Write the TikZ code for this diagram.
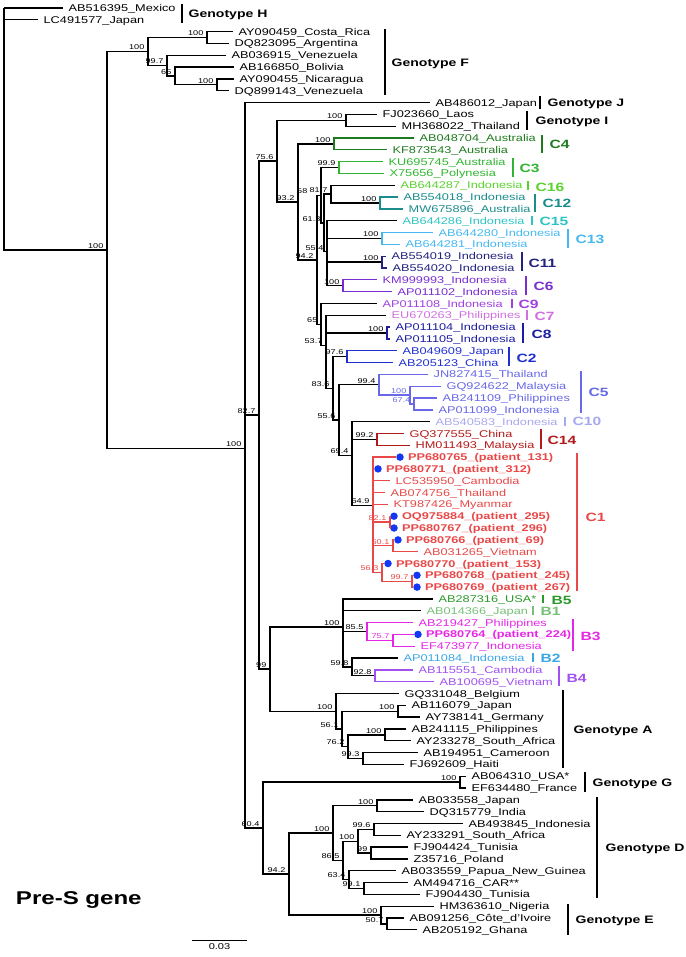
\documentclass[tikz,border=0pt]{standalone}
\usepackage{fontspec}
\setmainfont{Liberation Sans}[FakeStretch=1.3]
\usepackage{xcolor}
\usepackage{tikz}

\definecolor{cfour}{HTML}{1E7A1E}
\definecolor{cthree}{HTML}{30B530}
\definecolor{csixteen}{HTML}{5AD22E}
\definecolor{ctwelve}{HTML}{1A8C8C}
\definecolor{cfifteen}{HTML}{2EC4C4}
\definecolor{cthirteen}{HTML}{45B8F0}
\definecolor{celeven}{HTML}{22227F}
\definecolor{csix}{HTML}{7A2ED1}
\definecolor{cnine}{HTML}{A040E0}
\definecolor{cseven}{HTML}{D070E0}
\definecolor{ceight}{HTML}{1C1CA0}
\definecolor{ctwo}{HTML}{2030D0}
\definecolor{cfive}{HTML}{6868E8}
\definecolor{cten}{HTML}{A8A8EE}
\definecolor{cfourteen}{HTML}{B41A1A}
\definecolor{cone}{HTML}{E84848}
\definecolor{bfive}{HTML}{2A992A}
\definecolor{bone}{HTML}{78C078}
\definecolor{bthree}{HTML}{E626E6}
\definecolor{btwo}{HTML}{3AA6E6}
\definecolor{bfour}{HTML}{A050F0}
\definecolor{dotblue}{HTML}{1238F5}

\begin{document}
\begin{tikzpicture}[x=1pt,y=-1pt,line width=1.3pt,
	leaf/.style={anchor=west,inner xsep=5pt,inner ysep=0pt,text height=8pt,text depth=1pt,font=\fontsize{9.8}{10}\selectfont},
	pleaf/.style={leaf,cone,inner xsep=3pt,font=\fontsize{9.8}{10}\selectfont\bfseries},
	dot/.style={circle,fill=dotblue,inner sep=0pt,minimum size=7.5pt},
	bs/.style={anchor=south east,inner sep=1pt,xshift=-2pt,font=\fontsize{7}{7}\selectfont},
	bar/.style={line width=2.2pt},
	clade/.style={anchor=west,inner sep=0pt,text height=8.6pt,text depth=0pt,font=\fontsize{12}{12}\selectfont\bfseries},
	geno/.style={anchor=west,inner sep=0pt,text height=7.7pt,text depth=0pt,font=\fontsize{10.8}{11}\selectfont\bfseries}]
	\useasboundingbox (0,0) rectangle (685,957);

	\coordinate (root) at (4,8);
	\coordinate (nIn) at (107,250.1);
	\coordinate (nF) at (148,51.6);
	\coordinate (nCR) at (207,37.55);
	\coordinate (n997) at (167,65.6);
	\coordinate (n65F) at (175,75.95);
	\coordinate (nNV) at (217,84.8);
	\coordinate (n245) at (245,448.6);
	\coordinate (n827) at (259,415.1);
	\coordinate (n756) at (277,161.1);
	\coordinate (nI) at (346,120.3);
	\coordinate (n932) at (298,201.9);
	\coordinate (nC4) at (334,143.9);
	\coordinate (n942) at (317,259.9);
	\coordinate (n58) at (321,195.3);
	\coordinate (nC3) at (339,167.6);
	\coordinate (n613) at (324,222.95);
	\coordinate (n817) at (331,194.15);
	\coordinate (nC12) at (380,203);
	\coordinate (n554) at (327,251.8);
	\coordinate (nC13) at (382,238.5);
	\coordinate (nC11) at (382,262.1);
	\coordinate (nC6) at (343,285.75);
	\coordinate (n65C) at (321,324.55);
	\coordinate (n537) at (326,345.6);
	\coordinate (nC8) at (387,333);
	\coordinate (n836) at (333,388.4);
	\coordinate (nC2) at (347,356.7);
	\coordinate (n556) at (339,420.1);
	\coordinate (nC5) at (379,384.75);
	\coordinate (nC5a) at (410,395.1);
	\coordinate (nC5b) at (414,403.95);
	\coordinate (n694) at (352,455.5);
	\coordinate (nC14) at (377,439.4);
	\coordinate (nC1) at (373,505.5);
	\coordinate (n821) at (390,522.1);
	\coordinate (n601) at (393,545.8);
	\coordinate (n563) at (382,572.35);
	\coordinate (n997C) at (412,581.2);
	\coordinate (n99) at (270,669.1);
	\coordinate (nB) at (343,627);
	\coordinate (nB3) at (367,631.45);
	\coordinate (n757) at (393,640.3);
	\coordinate (n598) at (352,666.9);
	\coordinate (nB4) at (375,675.8);
	\coordinate (nA) at (336,711.2);
	\coordinate (n561) at (342,728.95);
	\coordinate (nA1) at (398,711.2);
	\coordinate (n762) at (348,746.7);
	\coordinate (nA2) at (385,734.9);
	\coordinate (n993) at (363,758.5);
	\coordinate (n604) at (263,828.1);
	\coordinate (nG) at (460,782.1);
	\coordinate (n942D) at (289,874.1);
	\coordinate (nD) at (333,833.1);
	\coordinate (nD1) at (377,805.8);
	\coordinate (n865) at (343,860.4);
	\coordinate (n100D) at (358,841.2);
	\coordinate (n996) at (374,829.4);
	\coordinate (n99D) at (371,853);
	\coordinate (n634) at (349,879.65);
	\coordinate (n991) at (364,888.5);
	\coordinate (nE) at (381,915.05);
	\coordinate (n507) at (387,923.9);

	\node[leaf] (AB516395) at (63,8) {AB516395\_Mexico};
	\node[leaf] (LC491577) at (38,19.8) {LC491577\_Japan};
	\node[leaf] (AY090459) at (233,31.6) {AY090459\_Costa\_Rica};
	\node[leaf] (DQ823095) at (229,43.5) {DQ823095\_Argentina};
	\node[leaf] (AB036915) at (226,55.3) {AB036915\_Venezuela};
	\node[leaf] (AB166850) at (234,67.1) {AB166850\_Bolivia};
	\node[leaf] (AY090455) at (234,78.9) {AY090455\_Nicaragua};
	\node[leaf] (DQ899143) at (229,90.7) {DQ899143\_Venezuela};
	\node[leaf] (AB486012) at (430,102.6) {AB486012\_Japan};
	\node[leaf] (FJ023660) at (377,114.4) {FJ023660\_Laos};
	\node[leaf] (MH368022) at (396,126.2) {MH368022\_Thailand};
	\node[leaf,cfour] (AB048704) at (414,138) {AB048704\_Australia};
	\node[leaf,cfour] (KF873543) at (387,149.8) {KF873543\_Australia};
	\node[leaf,cthree] (KU695745) at (383,161.7) {KU695745\_Australia};
	\node[leaf,cthree] (X75656) at (384,173.5) {X75656\_Polynesia};
	\node[leaf,csixteen] (AB644287) at (395,185.3) {AB644287\_Indonesia};
	\node[leaf,ctwelve] (AB554018) at (398,197.1) {AB554018\_Indonesia};
	\node[leaf,ctwelve] (MW675896) at (403,208.9) {MW675896\_Australia};
	\node[leaf,cfifteen] (AB644286) at (397,220.8) {AB644286\_Indonesia};
	\node[leaf,cthirteen] (AB644280) at (433,232.6) {AB644280\_Indonesia};
	\node[leaf,cthirteen] (AB644281) at (400,244.4) {AB644281\_Indonesia};
	\node[leaf,celeven] (AB554019) at (386,256.2) {AB554019\_Indonesia};
	\node[leaf,celeven] (AB554020) at (387,268) {AB554020\_Indonesia};
	\node[leaf,csix] (KM999993) at (377,279.8) {KM999993\_Indonesia};
	\node[leaf,csix] (AP011102) at (392,291.7) {AP011102\_Indonesia};
	\node[leaf,cnine] (AP011108) at (377,303.5) {AP011108\_Indonesia};
	\node[leaf,cseven] (EU670263) at (386,315.3) {EU670263\_Philippines};
	\node[leaf,ceight] (AP011104) at (390,327.1) {AP011104\_Indonesia};
	\node[leaf,ceight] (AP011105) at (390,338.9) {AP011105\_Indonesia};
	\node[leaf,ctwo] (AB049609) at (397,350.8) {AB049609\_Japan};
	\node[leaf,ctwo] (AB205123) at (393,362.6) {AB205123\_China};
	\node[leaf,cfive] (JN827415) at (428,374.4) {JN827415\_Thailand};
	\node[leaf,cfive] (GQ924622) at (441,386.2) {GQ924622\_Malaysia};
	\node[leaf,cfive] (AB241109) at (437,398) {AB241109\_Philippines};
	\node[leaf,cfive] (AP011099) at (433,409.9) {AP011099\_Indonesia};
	\node[leaf,cten] (AB540583) at (430,421.7) {AB540583\_Indonesia};
	\node[leaf,cfourteen] (GQ377555) at (404,433.5) {GQ377555\_China};
	\node[leaf,cfourteen] (HM011493) at (410,445.3) {HM011493\_Malaysia};

	\node[dot] (dPP680765) at (400,457.1) {};
	\node[pleaf] (PP680765) at (dPP680765.east) {PP680765\_(patient\_131)};
	\node[dot] (dPP680771) at (378,468.9) {};
	\node[pleaf] (PP680771) at (dPP680771.east) {PP680771\_(patient\_312)};
	\node[leaf,cone] (LC535950) at (390,480.8) {LC535950\_Cambodia};
	\node[leaf,cone] (AB074756) at (385,492.6) {AB074756\_Thailand};
	\node[leaf,cone] (KT987426) at (388,504.4) {KT987426\_Myanmar};
	\node[dot] (dOQ975884) at (394,516.2) {};
	\node[pleaf] (OQ975884) at (dOQ975884.east) {OQ975884\_(patient\_295)};
	\node[dot] (dPP680767) at (394,528) {};
	\node[pleaf] (PP680767) at (dPP680767.east) {PP680767\_(patient\_296)};
	\node[dot] (dPP680766) at (398,539.9) {};
	\node[pleaf] (PP680766) at (dPP680766.east) {PP680766\_(patient\_69)};
	\node[leaf,cone] (AB031265) at (418,551.7) {AB031265\_Vietnam};
	\node[dot] (dPP680770) at (388,563.5) {};
	\node[pleaf] (PP680770) at (dPP680770.east) {PP680770\_(patient\_153)};
	\node[dot] (dPP680768) at (417,575.3) {};
	\node[pleaf] (PP680768) at (dPP680768.east) {PP680768\_(patient\_245)};
	\node[dot] (dPP680769) at (417,587.1) {};
	\node[pleaf] (PP680769) at (dPP680769.east) {PP680769\_(patient\_267)};

	\node[leaf,bfive] (AB287316) at (433,599) {AB287316\_USA*};
	\node[leaf,bone] (AB014366) at (421,610.8) {AB014366\_Japan};
	\node[leaf,bthree] (AB219427) at (413,622.6) {AB219427\_Philippines};
	\node[dot] (dPP680764) at (418,634.4) {};
	\node[pleaf,bthree] (PP680764) at (dPP680764.east) {PP680764\_(patient\_224)};
	\node[leaf,bthree] (EF473977) at (415,646.2) {EF473977\_Indonesia};
	\node[leaf,btwo] (AP011084) at (398,658) {AP011084\_Indonesia};
	\node[leaf,bfour] (AB115551) at (413,669.9) {AB115551\_Cambodia};
	\node[leaf,bfour] (AB100695) at (434,681.7) {AB100695\_Vietnam};
	\node[leaf] (GQ331048) at (399,693.5) {GQ331048\_Belgium};
	\node[leaf] (AB116079) at (406,705.3) {AB116079\_Japan};
	\node[leaf] (AY738141) at (420,717.1) {AY738141\_Germany};
	\node[leaf] (AB241115) at (406,729) {AB241115\_Philippines};
	\node[leaf] (AY233278) at (411,740.8) {AY233278\_South\_Africa};
	\node[leaf] (AB194951) at (418,752.6) {AB194951\_Cameroon};
	\node[leaf] (FJ692609) at (404,764.4) {FJ692609\_Haiti};
	\node[leaf] (AB064310) at (466,776.2) {AB064310\_USA*};
	\node[leaf] (EF634480) at (466,788) {EF634480\_France};
	\node[leaf] (AB033558) at (413,799.9) {AB033558\_Japan};
	\node[leaf] (DQ315779) at (424,811.7) {DQ315779\_India};
	\node[leaf] (AB493845) at (463,823.5) {AB493845\_Indonesia};
	\node[leaf] (AY233291) at (401,835.3) {AY233291\_South\_Africa};
	\node[leaf] (FJ904424) at (408,847.1) {FJ904424\_Tunisia};
	\node[leaf] (Z35716) at (408,858.9) {Z35716\_Poland};
	\node[leaf] (AB033559) at (396,870.8) {AB033559\_Papua\_New\_Guinea};
	\node[leaf] (AM494716) at (408,882.6) {AM494716\_CAR**};
	\node[leaf] (FJ904430) at (420,894.4) {FJ904430\_Tunisia};
	\node[leaf] (HM363610) at (434,906.2) {HM363610\_Nigeria};
	\node[leaf] (AB091256) at (404,918) {AB091256\_Côte\_d'Ivoire};
	\node[leaf] (AB205192) at (417,929.8) {AB205192\_Ghana};

	\draw (root) |- (AB516395.west);
	\draw (root) |- (LC491577.west);
	\draw (root) |- (nIn);
	\draw (nIn) |- (nF);
	\draw (nIn) |- (n245);
	\draw (nF) |- (nCR);
	\draw (nF) |- (n997);
	\draw (nCR) |- (AY090459.west);
	\draw (nCR) |- (DQ823095.west);
	\draw (n997) |- (AB036915.west);
	\draw (n997) |- (n65F);
	\draw (n65F) |- (AB166850.west);
	\draw (n65F) |- (nNV);
	\draw (nNV) |- (AY090455.west);
	\draw (nNV) |- (DQ899143.west);

	\draw (n245) |- (AB486012.west);
	\draw (n245) |- (n827);
	\draw (n245) |- (n604);
	\draw (n827) |- (n756);
	\draw (n827) |- (n99);
	\draw (n756) |- (nI);
	\draw (n756) |- (n932);
	\draw (nI) |- (FJ023660.west);
	\draw (nI) |- (MH368022.west);
	\draw (n932) |- (nC4);
	\draw (n932) |- (n942);
	\draw[cfour] (nC4) |- (AB048704.west);
	\draw[cfour] (nC4) |- (KF873543.west);
	\draw (n942) |- (n58);
	\draw (n942) |- (n65C);
	\draw (n58) |- (nC3);
	\draw (n58) |- (n613);
	\draw[cthree] (nC3) |- (KU695745.west);
	\draw[cthree] (nC3) |- (X75656.west);
	\draw (n613) |- (n817);
	\draw (n613) |- (n554);
	\draw (n817) |- (AB644287.west);
	\draw (n817) |- (nC12);
	\draw[ctwelve] (nC12) |- (AB554018.west);
	\draw[ctwelve] (nC12) |- (MW675896.west);
	\draw (n554) |- (AB644286.west);
	\draw (n554) |- (nC13);
	\draw (n554) |- (nC11);
	\draw (n554) |- (nC6);
	\draw[cthirteen] (nC13) |- (AB644280.west);
	\draw[cthirteen] (nC13) |- (AB644281.west);
	\draw[celeven] (nC11) |- (AB554019.west);
	\draw[celeven] (nC11) |- (AB554020.west);
	\draw[csix] (nC6) |- (KM999993.west);
	\draw[csix] (nC6) |- (AP011102.west);
	\draw (n65C) |- (AP011108.west);
	\draw (n65C) |- (n537);
	\draw (n537) |- (EU670263.west);
	\draw (n537) |- (nC8);
	\draw (n537) |- (n836);
	\draw[ceight] (nC8) |- (AP011104.west);
	\draw[ceight] (nC8) |- (AP011105.west);
	\draw (n836) |- (nC2);
	\draw (n836) |- (n556);
	\draw[ctwo] (nC2) |- (AB049609.west);
	\draw[ctwo] (nC2) |- (AB205123.west);
	\draw (n556) |- (nC5);
	\draw (n556) |- (n694);
	\draw[cfive] (nC5) |- (JN827415.west);
	\draw[cfive] (nC5) |- (nC5a);
	\draw[cfive] (nC5a) |- (GQ924622.west);
	\draw[cfive] (nC5a) |- (nC5b);
	\draw[cfive] (nC5b) |- (AB241109.west);
	\draw[cfive] (nC5b) |- (AP011099.west);
	\draw (n694) |- (AB540583.west);
	\draw (n694) |- (nC14);
	\draw (n694) |- (nC1);
	\draw[cfourteen] (nC14) |- (GQ377555.west);
	\draw[cfourteen] (nC14) |- (HM011493.west);
	\draw[cone] (nC1) |- (dPP680765);
	\draw[cone] (nC1) |- (dPP680771);
	\draw[cone] (nC1) |- (LC535950.west);
	\draw[cone] (nC1) |- (AB074756.west);
	\draw[cone] (nC1) |- (KT987426.west);
	\draw[cone] (nC1) |- (n821);
	\draw[cone] (nC1) |- (n601);
	\draw[cone] (nC1) |- (n563);
	\draw[cone] (n821) |- (dOQ975884);
	\draw[cone] (n821) |- (dPP680767);
	\draw[cone] (n601) |- (dPP680766);
	\draw[cone] (n601) |- (AB031265.west);
	\draw[cone] (n563) |- (dPP680770);
	\draw[cone] (n563) |- (n997C);
	\draw[cone] (n997C) |- (dPP680768);
	\draw[cone] (n997C) |- (dPP680769);

	\draw (n99) |- (nB);
	\draw (n99) |- (nA);
	\draw (nB) |- (AB287316.west);
	\draw (nB) |- (AB014366.west);
	\draw (nB) |- (nB3);
	\draw (nB) |- (n598);
	\draw[bthree] (nB3) |- (AB219427.west);
	\draw[bthree] (nB3) |- (n757);
	\draw[bthree] (n757) |- (dPP680764);
	\draw[bthree] (n757) |- (EF473977.west);
	\draw (n598) |- (AP011084.west);
	\draw (n598) |- (nB4);
	\draw[bfour] (nB4) |- (AB115551.west);
	\draw[bfour] (nB4) |- (AB100695.west);
	\draw (nA) |- (GQ331048.west);
	\draw (nA) |- (n561);
	\draw (n561) |- (nA1);
	\draw (n561) |- (n762);
	\draw (nA1) |- (AB116079.west);
	\draw (nA1) |- (AY738141.west);
	\draw (n762) |- (nA2);
	\draw (n762) |- (n993);
	\draw (nA2) |- (AB241115.west);
	\draw (nA2) |- (AY233278.west);
	\draw (n993) |- (AB194951.west);
	\draw (n993) |- (FJ692609.west);

	\draw (n604) |- (nG);
	\draw (n604) |- (n942D);
	\draw (nG) |- (AB064310.west);
	\draw (nG) |- (EF634480.west);
	\draw (n942D) |- (nD);
	\draw (n942D) |- (nE);
	\draw (nD) |- (nD1);
	\draw (nD) |- (n865);
	\draw (nD1) |- (AB033558.west);
	\draw (nD1) |- (DQ315779.west);
	\draw (n865) |- (n100D);
	\draw (n865) |- (n634);
	\draw (n100D) |- (n996);
	\draw (n100D) |- (n99D);
	\draw (n996) |- (AB493845.west);
	\draw (n996) |- (AY233291.west);
	\draw (n99D) |- (FJ904424.west);
	\draw (n99D) |- (Z35716.west);
	\draw (n634) |- (AB033559.west);
	\draw (n634) |- (n991);
	\draw (n991) |- (AM494716.west);
	\draw (n991) |- (FJ904430.west);
	\draw (nE) |- (HM363610.west);
	\draw (nE) |- (n507);
	\draw (n507) |- (AB091256.west);
	\draw (n507) |- (AB205192.west);

	\node[bs] (bIn) at (nIn) {100};
	\node[bs] (bF) at (nF) {100};
	\node[bs] (bCR) at (nCR) {100};
	\node[bs] (b997) at (n997) {99.7};
	\node[bs] (b65F) at (n65F) {65};
	\node[bs] (bNV) at (nNV) {100};
	\node[bs] (b245) at (n245) {100};
	\node[bs] (b827) at (n827) {82.7};
	\node[bs] (b756) at (n756) {75.6};
	\node[bs] (bI) at (nI) {100};
	\node[bs] (b932) at (n932) {93.2};
	\node[bs] (bC4) at (nC4) {100};
	\node[bs] (b942) at (n942) {94.2};
	\node[bs,xshift=-10pt] (b58) at (n58) {58};
	\node[bs] (bC3) at (nC3) {99.9};
	\node[bs] (b613) at (n613) {61.3};
	\node[bs] (b817) at (n817) {81.7};
	\node[bs] (bC12) at (nC12) {100};
	\node[bs] (b554) at (n554) {55.4};
	\node[bs] (bC13) at (nC13) {100};
	\node[bs] (bC11) at (nC11) {100};
	\node[bs] (bC6) at (nC6) {100};
	\node[bs] (b65C) at (n65C) {65};
	\node[bs] (b537) at (n537) {53.7};
	\node[bs] (bC8) at (nC8) {100};
	\node[bs] (b836) at (n836) {83.6};
	\node[bs] (bC2) at (nC2) {97.6};
	\node[bs] (b556) at (n556) {55.6};
	\node[bs] (bC5) at (nC5) {99.4};
	\node[bs,cfive] (bC5a) at (nC5a) {100};
	\node[bs,cfive] (bC5b) at (nC5b) {67.4};
	\node[bs] (b694) at (n694) {69.4};
	\node[bs] (bC14) at (nC14) {99.2};
	\node[bs] (bC1) at (nC1) {64.9};
	\node[bs,cone] (b821) at (n821) {82.1};
	\node[bs,cone] (b601) at (n601) {60.1};
	\node[bs,cone] (b563) at (n563) {56.3};
	\node[bs,cone] (b997C) at (n997C) {99.7};
	\node[bs] (b99) at (n99) {99};
	\node[bs] (bB) at (nB) {100};
	\node[bs] (bB3) at (nB3) {85.5};
	\node[bs,bthree] (b757) at (n757) {75.7};
	\node[bs] (b598) at (n598) {59.8};
	\node[bs] (bB4) at (nB4) {92.8};
	\node[bs] (bA) at (nA) {100};
	\node[bs] (b561) at (n561) {56.1};
	\node[bs] (bA1) at (nA1) {100};
	\node[bs] (b762) at (n762) {76.2};
	\node[bs] (bA2) at (nA2) {100};
	\node[bs] (b993) at (n993) {99.3};
	\node[bs] (b604) at (n604) {60.4};
	\node[bs] (bG) at (nG) {100};
	\node[bs] (b942D) at (n942D) {94.2};
	\node[bs] (bD) at (nD) {100};
	\node[bs] (bD1) at (nD1) {100};
	\node[bs] (b865) at (n865) {86.5};
	\node[bs] (b100D) at (n100D) {100};
	\node[bs] (b996) at (n996) {99.6};
	\node[bs] (b99D) at (n99D) {99};
	\node[bs] (b634) at (n634) {63.4};
	\node[bs] (b991) at (n991) {99.1};
	\node[bs] (bE) at (nE) {100};
	\node[bs] (b507) at (n507) {50.7};

	\draw[bar] (182,4) -- (182,23);
	\node[geno] (gH) at (188,14) {Genotype H};
	\draw[bar] (385,29) -- (385,95);
	\node[geno] (gF) at (391,63) {Genotype F};
	\draw[bar] (540,96) -- (540,109);
	\node[geno] (gJ) at (547,103) {Genotype J};
	\draw[bar] (527,111) -- (527,130);
	\node[geno] (gI) at (535,121) {Genotype I};
	\draw[bar,cfour] (542,135) -- (542,153);
	\node[clade,cfour] (tC4) at (549,144) {C4};
	\draw[bar,cthree] (513,158) -- (513,177);
	\node[clade,cthree] (tC3) at (519,168) {C3};
	\draw[bar,csixteen] (528,181) -- (528,190);
	\node[clade,csixteen] (tC16) at (535,187) {C16};
	\draw[bar,ctwelve] (535,194) -- (535,212);
	\node[clade,ctwelve] (tC12) at (542,203) {C12};
	\draw[bar,cfifteen] (532,216) -- (532,225);
	\node[clade,cfifteen] (tC15) at (539,221) {C15};
	\draw[bar,cthirteen] (568,229) -- (568,248);
	\node[clade,cthirteen] (tC13) at (575,239) {C13};
	\draw[bar,celeven] (522,252) -- (522,271);
	\node[clade,celeven] (tC11) at (528,263) {C11};
	\draw[bar,csix] (526,276) -- (526,295);
	\node[clade,csix] (tC6) at (533,286) {C6};
	\draw[bar,cnine] (512,299) -- (512,308);
	\node[clade,cnine] (tC9) at (518,304) {C9};
	\draw[bar,cseven] (527,310) -- (527,320);
	\node[clade,cseven] (tC7) at (534,316) {C7};
	\draw[bar,ceight] (523,323) -- (523,343);
	\node[clade,ceight] (tC8) at (531,334) {C8};
	\draw[bar,ctwo] (509,347) -- (509,366);
	\node[clade,ctwo] (tC2) at (516,358) {C2};
	\draw[bar,cfive] (581,371) -- (581,413);
	\node[clade,cfive] (tC5) at (588,392) {C5};
	\draw[bar,cten] (565,417) -- (565,426);
	\node[clade,cten] (tC10) at (572,421) {C10};
	\draw[bar,cfourteen] (541,429) -- (541,449);
	\node[clade,cfourteen] (tC14) at (547,440) {C14};
	\draw[bar,cone] (577,453) -- (577,591);
	\node[clade,cone] (tC1) at (585,517) {C1};
	\draw[bar,bfive] (543,595) -- (543,603);
	\node[clade,bfive] (tB5) at (551,600) {B5};
	\draw[bar,bone] (533,606) -- (533,615);
	\node[clade,bone] (tB1) at (540,611) {B1};
	\draw[bar,bthree] (573,619) -- (573,651);
	\node[clade,bthree] (tB3) at (580,636) {B3};
	\draw[bar,btwo] (533,653) -- (533,662);
	\node[clade,btwo] (tB2) at (540,658) {B2};
	\draw[bar,bfour] (559,666) -- (559,686);
	\node[clade,bfour] (tB4) at (566,678) {B4};
	\draw[bar] (563,690) -- (563,768);
	\node[geno] (gA) at (573,730) {Genotype A};
	\draw[bar] (585,772) -- (585,792);
	\node[geno] (gG) at (592,783) {Genotype G};
	\draw[bar] (597,797) -- (597,898);
	\node[geno] (gD) at (605,848) {Genotype D};
	\draw[bar] (568,904) -- (568,935);
	\node[geno] (gE) at (575,920) {Genotype E};

	\node[anchor=west,font=\fontsize{18.5}{19}\selectfont\bfseries] (title) at (12,900) {Pre-S gene};
	\coordinate (sL) at (192,940);
	\coordinate (sR) at (247,940);
	\draw[line width=0.6pt] (sL) -- (sR);
	\node[below,inner sep=2pt,font=\fontsize{8.5}{9}\selectfont] (scale) at (219.5,941) {0.03};
\end{tikzpicture}
\end{document}
